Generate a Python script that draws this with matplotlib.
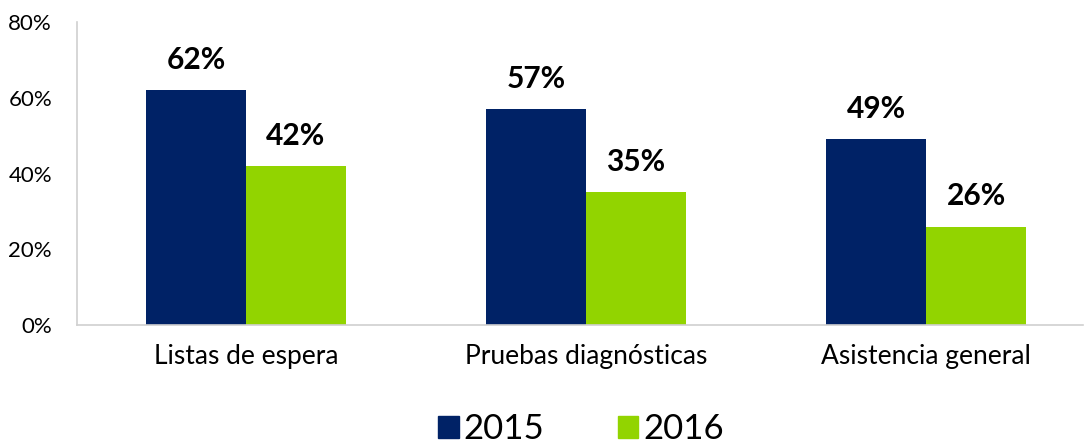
import matplotlib
matplotlib.use("Agg")
import matplotlib.pyplot as plt
import numpy as np
from matplotlib.patches import Patch

categories = ["Listas de espera", "Pruebas diagnósticas", "Asistencia general"]
series_names = ["2015", "2016"]
values_2015 = [62, 57, 49]
values_2016 = [42, 35, 26]
yticks = [0, 20, 40, 60, 80]

colors = ["#002266", "#92D400"]
plt.rcParams['font.family'] = ['Lato', 'DejaVu Sans']

fig = plt.figure(figsize=(10.84, 4.48), dpi=100)
ax = fig.add_axes([77/1084, 1-325/448, (1083-77)/1084, (325-22)/448])

x = np.arange(len(categories))
w = 100/340
b1 = ax.bar(x - w/2, values_2015, w, color=colors[0])
b2 = ax.bar(x + w/2, values_2016, w, color=colors[1])

for bars in (b1, b2):
    for r in bars:
        ax.text(r.get_x() + r.get_width()/2, r.get_height() + 4.3, f"{int(r.get_height())}%",
                ha='center', va='bottom', fontsize=21.5, fontweight='bold', color='black')

ax.set_ylim(0, 80)
ax.set_xlim(-169/340, 2 + 157/340)
ax.set_yticks(yticks)
ax.set_yticklabels([f"{v}%" for v in yticks], fontsize=16)
ax.set_xticks(x)
ax.set_xticklabels(categories, fontsize=19)
ax.tick_params(axis='both', length=0)
ax.tick_params(axis='y', pad=18)
ax.tick_params(axis='x', pad=14)
for s in ['top', 'right']:
    ax.spines[s].set_visible(False)
for s in ['left', 'bottom']:
    ax.spines[s].set_color('#D0D0D0')
    ax.spines[s].set_linewidth(1.2)

handles = [Patch(color=c) for c in colors]
fig.legend(handles, series_names, loc='center', bbox_to_anchor=(581/1084, 1-429/448),
           ncol=2, frameon=False, fontsize=25, handlelength=0.6, handleheight=0.6,
           handletextpad=0.15, columnspacing=2.1, borderpad=0)

fig.savefig("out.png", dpi=100)
